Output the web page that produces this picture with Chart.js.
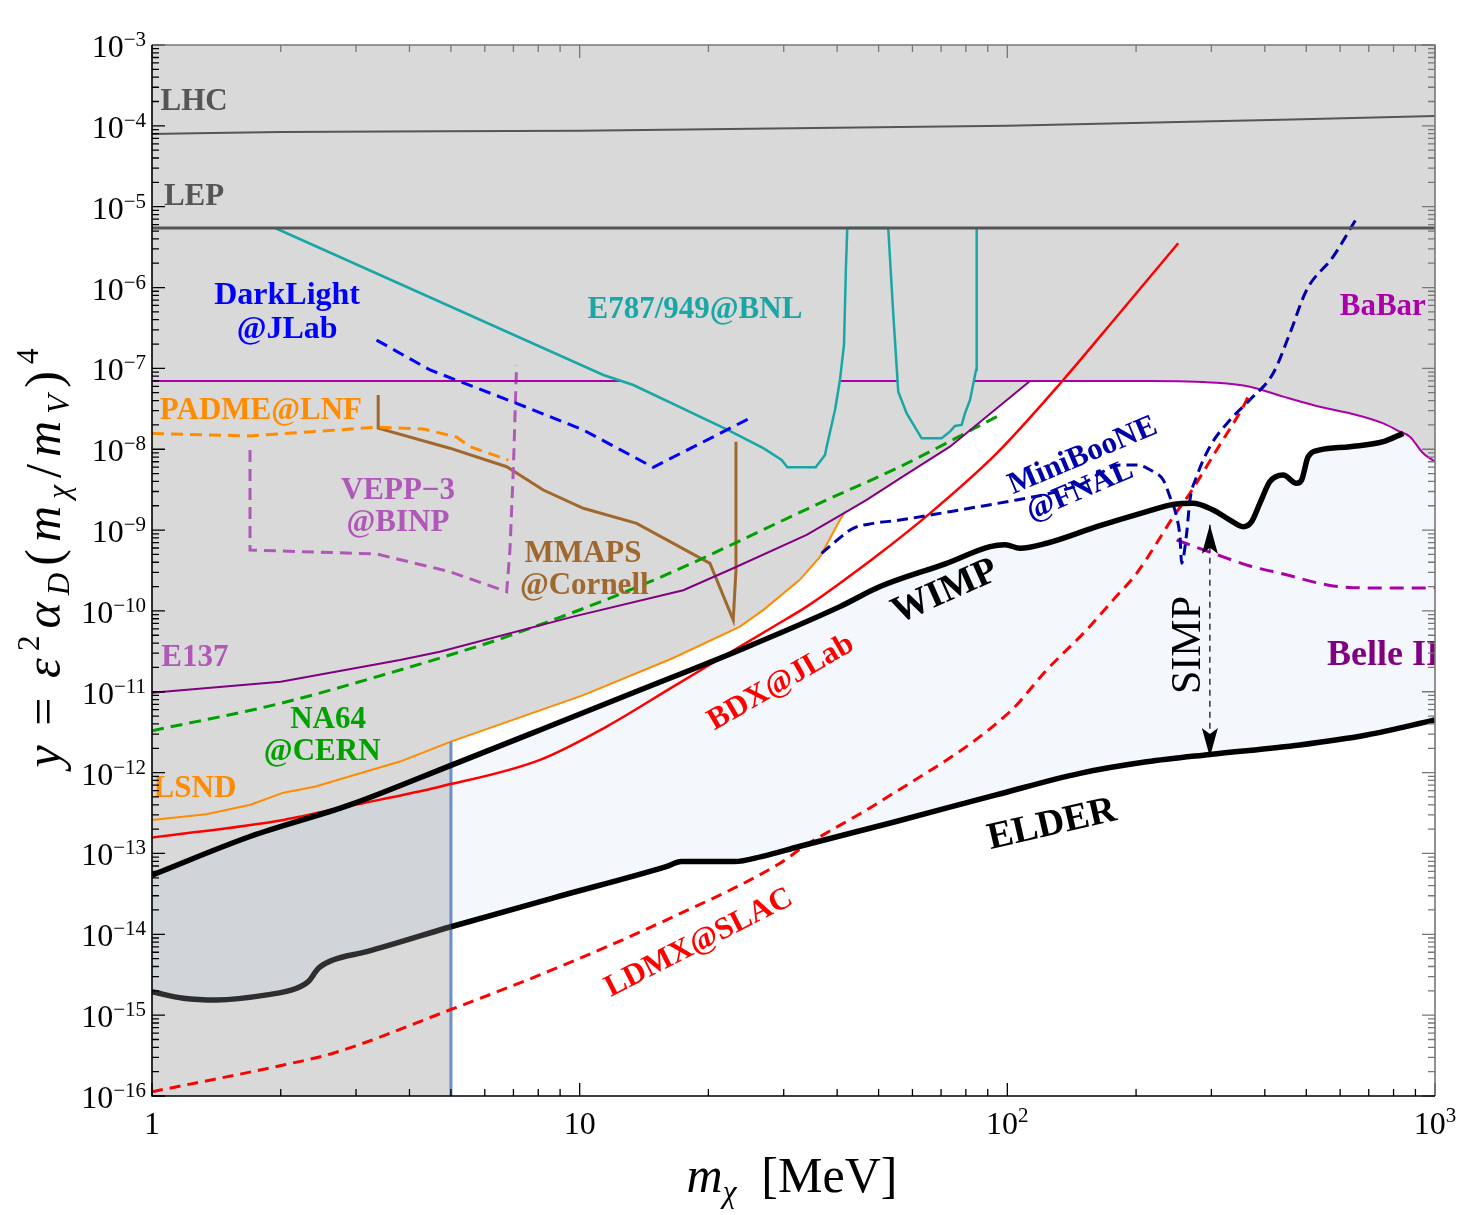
<!DOCTYPE html>
<html>
<head>
<meta charset="utf-8">
<script src="https://cdn.jsdelivr.net/npm/chart.js@4.4.1/dist/chart.umd.min.js"></script>
<style>
  html, body { margin: 0; padding: 0; background: #fff; }
  canvas { display: block; }
</style>
</head>
<body>
<canvas id="chart" width="1459" height="1215"></canvas>
<script>
// every curve is a list of [m_chi in MeV, y]
var lhc = [[1, 7.9e-5], [2, 8.4e-5], [10, 8.7e-5], [100, 1.0e-4], [1000, 1.32e-4]];
var lep = [[1, 5.45e-6], [1000, 5.45e-6]];
var e787 = [[1.94, 5.45e-6], [11.36, 8.29e-8], [13.35, 6.23e-8], [22.07, 1.765e-8], [26.88, 1.03e-8],
  [29.67, 7.36e-9], [30.58, 5.98e-9], [35.63, 5.98e-9], [36.46, 7.01e-9], [37.46, 8.49e-9],
  [37.81, 1.075e-8], [39.54, 3.06e-8], [40.61, 7.19e-8], [41.5, 1.95e-7], [41.94, 1.81e-6],
  [42.24, 5.45e-6], [52.66, 5.45e-6], [54.1, 4.8e-7], [55.58, 5.15e-8], [58.17, 2.78e-8],
  [63.05, 1.366e-8], [70.2, 1.366e-8], [73.4, 1.65e-8], [75.4, 1.94e-8], [78.2, 2.0e-8],
  [79.6, 2.78e-8], [81.8, 4.07e-8], [84.5, 9.55e-8], [84.8, 5.45e-6]];
var babar = [[1, 7e-8], [215.5, 7e-8], [308.6, 6.65e-8], [369, 5.94e-8], [441.7, 4.47e-8],
  [528.8, 3.43e-8], [632.6, 2.78e-8], [756.9, 2.09e-8], [827.9, 1.65e-8], [873.6, 1.43e-8],
  [938.4, 8.9e-9], [1000, 7.0e-9]];
var e137 = [[1, 9.75e-12], [2, 1.33e-11], [3.8, 2.47e-11], [4.71, 3.13e-11], [9.66, 8.5e-11],
  [17.47, 1.8e-10], [22.86, 3.37e-10], [33.94, 8.7e-10], [42.1, 1.69e-9], [46.9, 2.36e-9],
  [56.1, 4.37e-9], [73.4, 1.075e-8], [113, 7e-8]];
var lsnd = [[1, 2.6e-13], [1.34, 3.06e-13], [1.7, 4.0e-13], [2.03, 5.65e-13], [2.4, 6.7e-13],
  [3.8, 1.37e-12], [5, 2.42e-12], [10.2, 9.1e-12], [16.5, 2.6e-11], [23.7, 6.4e-11],
  [26.9, 1.03e-10], [32.7, 2.42e-10], [36.5, 4.7e-10], [40.6, 1.33e-9], [41.7, 1.69e-9]];
var na64 = [[1, 3.3e-12], [2, 7.2e-12], [3.8, 1.86e-11], [4.97, 2.85e-11], [6.75, 4.8e-11],
  [14.6, 2.3e-10], [37.8, 2.36e-9], [56.1, 6.08e-9], [97.8, 2.78e-8]];
var padme = [[1, 1.57e-8], [1.695, 1.46e-8], [3.35, 1.87e-8], [4.31, 1.78e-8], [5.16, 1.41e-8],
  [5.54, 1.075e-8], [6.81, 7.36e-9]];
var vepp = [[1.695, 9.8e-9], [1.695, 5.67e-10], [3.35, 5.06e-10], [4.97, 3.06e-10], [6.75, 1.73e-10],
  [6.87, 5.67e-10], [7.0, 6.08e-9], [7.12, 1.1e-7]];
var mmaps = [[3.38, 4.69e-8], [3.38, 1.82e-8], [4.97, 1.03e-8], [6.75, 6.08e-9], [8.22, 3.13e-9],
  [10.2, 1.86e-9], [13.59, 1.21e-9], [20.17, 3.88e-10], [22.86, 7.73e-11], [23.2, 3.21e-10],
  [23.2, 1.24e-8]];
var darklight = [[3.35, 2.24e-7], [4.47, 9.55e-8], [7.12, 3.7e-8], [10.2, 1.73e-8], [14.86, 5.98e-9],
  [25, 2.42e-8]];
var miniboone = [[36.8, 5.16e-10], [39.2, 6.87e-10], [43.6, 1.05e-9], [48.6, 1.21e-9], [56.1, 1.33e-9],
  [73.4, 1.69e-9], [87.8, 1.99e-9], [105.2, 2.36e-9], [125.8, 2.85e-9], [150.5, 3.79e-9],
  [164.6, 5.04e-9], [183.4, 6.39e-9], [200.6, 6.39e-9], [219.3, 5.28e-9], [231.5, 4.17e-9],
  [240, 2.59e-9], [248.8, 1.46e-9], [253.3, 8.29e-10], [255.6, 3.89e-10], [262.6, 9.13e-10],
  [267.3, 2.36e-9], [277.1, 4.58e-9], [297.6, 1.075e-8], [331.6, 2.3e-8], [369, 4.07e-8],
  [418.4, 8.7e-8], [457.9, 2.72e-7], [501, 9.33e-7], [578, 2.41e-6], [655.6, 7.19e-6]];
var bdx = [[1, 1.57e-13], [2.03, 2.6e-13], [2.9, 3.87e-13], [4.71, 6.7e-13], [8.08, 1.44e-12],
  [11.56, 3.71e-12], [16.55, 1.16e-11], [23.7, 3.61e-11], [28.36, 6.38e-11], [33.94, 1.13e-10],
  [40.6, 2.2e-10], [50.4, 5.16e-10], [65.9, 1.61e-9], [94.4, 8.9e-9], [135.1, 7.19e-8],
  [180.1, 4.36e-7], [250.9, 3.53e-6]];
var ldmx = [[1, 1.13e-16], [2.03, 2.42e-16], [2.65, 3.38e-16], [4.97, 1.16e-15], [8.61, 3.62e-15],
  [15.93, 1.5e-14], [29.4, 7.57e-14], [33.3, 1.2e-13], [50.4, 4.37e-13], [101.4, 5.67e-12],
  [123.6, 1.86e-11], [153.2, 5.81e-11], [176.8, 1.37e-10], [200.6, 2.92e-10], [223.4, 6.87e-10],
  [244.3, 1.46e-9], [267.3, 2.85e-9], [308.6, 9.8e-9], [356, 3.36e-8], [365.8, 4.47e-8]];
var belle2 = [[248.8, 7.54e-10], [302.9, 5.16e-10], [369, 3.6e-10], [441.7, 2.86e-10], [578, 2.04e-10],
  [743, 1.92e-10], [1000, 1.92e-10]];
var wimp = [[1, 5.4e-14], [1.695, 1.62e-13], [2.9, 3.98e-13], [5, 1.23e-12], [8.08, 3.37e-12],
  [13.84, 1.05e-11], [23.7, 3.29e-11], [40.6, 1.13e-10], [50.4, 2.0e-10], [72.1, 3.88e-10],
  [91.1, 6.24e-10], [98.9, 6.6e-10], [107, 5.96e-10], [123.6, 6.87e-10], [161.8, 1.1e-9],
  [211.7, 1.69e-9], [244.3, 2.08e-9], [271.4, 2.15e-9], [302.9, 1.77e-9], [331.6, 1.33e-9],
  [356, 1.1e-9], [372.6, 1.27e-9], [389.6, 2.15e-9], [411, 3.97e-9], [441.7, 4.8e-9],
  [474.7, 3.79e-9], [487.7, 4.17e-9], [505.2, 8.09e-9], [538.2, 9.8e-9], [632.6, 1.075e-8],
  [756.9, 1.24e-8], [842.6, 1.57e-8]];
var elder = [[1, 1.95e-15], [1.184, 1.62e-15], [1.417, 1.54e-15], [1.855, 1.78e-15], [2.18, 2.15e-15],
  [2.32, 2.6e-15], [2.45, 3.8e-15], [2.65, 4.82e-15], [3.18, 6.1e-15], [5, 1.24e-14],
  [8.61, 2.79e-14], [15.93, 6.87e-14], [17.29, 7.93e-14], [23, 7.93e-14], [26.6, 9.14e-14],
  [32.6, 1.22e-13], [54.4, 2.45e-13], [94.1, 5.3e-13], [147.8, 9.8e-13], [211.7, 1.36e-12],
  [297.6, 1.68e-12], [483.2, 2.2e-12], [692, 2.92e-12], [1000, 4.48e-12]];
var cutLine = [[5, 1e-16], [5, 2.42e-12]];
var simpArrow = [[297.6, 1.16e-9], [297.6, 1.56e-12]];

var xDecades = [1, 10, 100, 1000];
var yExponents = [-3, -4, -5, -6, -7, -8, -9, -10, -11, -12, -13, -14, -15, -16];

// region edges built from the curves above
var allowedEdge = lsnd.filter(function (p) { return p[0] >= 5; })
  .concat(e137.filter(function (p) { return p[0] > 41.7; }))
  .concat(babar.filter(function (p) { return p[0] > 113; }));
var wimpEnd = wimp[wimp.length - 1][0];
var simpTop = wimp.filter(function (p) { return p[0] >= 5; })
  .concat(babar.filter(function (p) { return p[0] > wimpEnd; }));
var simpTopLow = wimp.filter(function (p) { return p[0] <= 5; });

var notes = [
  { t: 'LHC', m: 1.254, v: 1.97e-4, c: '#555555', s: 31 },
  { t: 'LEP', m: 1.254, v: 1.32e-5, c: '#555555', s: 31 },
  { t: 'DarkLight', m: 2.07, v: 7.86e-7, c: '#0000ff', s: 32 },
  { t: '@JLab', m: 2.07, v: 2.99e-7, c: '#0000ff', s: 32 },
  { t: 'E787/949@BNL', m: 18.6, v: 5.27e-7, c: '#19a6a6', s: 31 },
  { t: 'BaBar', m: 755, v: 5.75e-7, c: '#aa00aa', s: 31 },
  { t: 'PADME@LNF', m: 1.798, v: 2.97e-8, c: '#ff8c00', s: 31 },
  { t: 'VEPP\u22123', m: 3.76, v: 3.05e-9, c: '#b058b8', s: 31 },
  { t: '@BINP', m: 3.76, v: 1.22e-9, c: '#b058b8', s: 31 },
  { t: 'MMAPS', m: 10.18, v: 5.06e-10, c: '#a0682f', s: 31 },
  { t: '@Cornell', m: 10.25, v: 2.04e-10, c: '#a0682f', s: 31 },
  { t: 'E137', m: 1.26, v: 2.62e-11, c: '#b058b8', s: 31 },
  { t: 'NA64', m: 2.58, v: 4.48e-12, c: '#00a000', s: 31 },
  { t: '@CERN', m: 2.5, v: 1.8e-12, c: '#00a000', s: 31 },
  { t: 'LSND', m: 1.26, v: 6.28e-13, c: '#ff8c00', s: 31 },
  { t: 'WIMP', m: 71.5, v: 1.71e-10, c: '#000000', s: 38, r: -24 },
  { t: 'ELDER', m: 127.2, v: 2.25e-13, c: '#000000', s: 38, r: -13 },
  { t: 'BDX@JLab', m: 29.56, v: 1.29e-11, c: '#ff0000', s: 31, r: -30 },
  { t: 'LDMX@SLAC', m: 19.0, v: 7.82e-15, c: '#ff0000', s: 31, r: -27 },
  { t: 'MiniBooNE', m: 150.2, v: 8.25e-9, c: '#0000a8', s: 31, r: -23 },
  { t: '@FNAL', m: 147.8, v: 3.05e-9, c: '#0000a8', s: 31, r: -23 },
  { t: 'Belle II', m: 558.8, v: 2.77e-11, c: '#800080', s: 36, a: 'left' },
  { t: 'SIMP', m: 265.9, v: 3.79e-11, c: '#000000', s: 42, r: -90, w: 'normal' }
];

function xy(a) { return a.map(function (p) { return { x: p[0], y: p[1] }; }); }

var SERIF = '"Liberation Serif", "DejaVu Serif", serif';
var GRAY = '#d9d9d9';
var CLEAR = 'rgba(0,0,0,0)';

function curve(d, color, width, dash, order, smooth) {
  return {
    data: xy(d), borderColor: color, borderWidth: width, borderDash: dash || [],
    pointRadius: 0, fill: false, order: order,
    cubicInterpolationMode: smooth ? 'monotone' : 'default', tension: 0
  };
}
function area(d, fill, color, order) {
  return {
    data: xy(d), borderColor: CLEAR, borderWidth: 0, pointRadius: 0,
    fill: fill, backgroundColor: color, order: order, tension: 0
  };
}

var ELDER_INDEX = 21;
var datasets = [
  area(allowedEdge, 'start', '#ffffff', 100),
  area(simpTop, ELDER_INDEX, '#f4f8fd', 99),
  area(simpTopLow, ELDER_INDEX, '#d1d5da', 99),
  curve(cutLine, '#6a8fc6', 3, null, 60),
  curve(babar, '#aa00aa', 2, null, 60, true),
  curve(e137, '#800080', 2, null, 60),
  curve(lsnd, '#ff8c00', 2, null, 60),
  curve(na64, '#00a000', 3, [12, 7], 60, true),
  curve(padme, '#ff8c00', 3, [12, 7], 60),
  curve(vepp, '#b058b8', 3, [12, 7], 60),
  curve(mmaps, '#a0682f', 3, null, 60),
  curve(e787, '#19a6a6', 2.5, null, 50),
  curve(lhc, '#555555', 2, null, 40, true),
  curve(lep, '#555555', 3, null, 40),
  curve(darklight, '#0000ff', 3, [12, 7], 40),
  curve(miniboone, '#0000a8', 3, [11, 6], 40, true),
  curve(bdx, '#ff0000', 2.5, null, 40, true),
  curve(ldmx, '#ff0000', 3, [11, 7], 40, true),
  curve(belle2, '#aa00aa', 3, [14, 8], 40, true),
  curve(simpArrow, '#000000', 1.2, [6, 5], 40),
  curve(wimp, '#000000', 5.5, null, 30, true),
  curve(elder, '#000000', 5.5, null, 30, true)
];
datasets[11].fill = 'end';
datasets[11].backgroundColor = GRAY;
datasets[ELDER_INDEX].segment = {
  borderColor: function (c) { return c.p1.parsed.x <= 5 ? '#2e2e2e' : '#000000'; }
};

function rich(ctx, parts, x, y, align, gap) {
  gap = gap || 0;
  var w = 0;
  parts.forEach(function (p) { ctx.font = p[1]; w += ctx.measureText(p[0]).width; });
  w += gap * (parts.length - 1);
  var cx = align === 'center' ? x - w / 2 : (align === 'right' ? x - w : x);
  parts.forEach(function (p) {
    ctx.font = p[1];
    ctx.fillText(p[0], cx, y + (p[2] || 0));
    cx += ctx.measureText(p[0]).width + gap;
  });
  return w;
}

var background = {
  id: 'background',
  beforeDraw: function (chart) {
    var a = chart.chartArea, ctx = chart.ctx;
    ctx.save();
    ctx.fillStyle = GRAY;
    ctx.fillRect(a.left, a.top, a.right - a.left, a.bottom - a.top);
    ctx.restore();
  }
};

var annotations = {
  id: 'annotations',
  afterDatasetsDraw: function (chart) {
    var ctx = chart.ctx, a = chart.chartArea, xs = chart.scales.x, ys = chart.scales.y;
    ctx.save();
    ctx.beginPath();
    ctx.rect(a.left, a.top, a.right - a.left, a.bottom - a.top);
    ctx.clip();

    // SIMP arrow heads
    ctx.fillStyle = '#000';
    simpArrow.forEach(function (p, i) {
      var px = xs.getPixelForValue(p[0]), py = ys.getPixelForValue(p[1]);
      var d = i === 0 ? 1 : -1;
      ctx.beginPath();
      ctx.moveTo(px, py);
      ctx.lineTo(px - 8, py + d * 29);
      ctx.lineTo(px, py + d * 23);
      ctx.lineTo(px + 8, py + d * 29);
      ctx.closePath();
      ctx.fill();
    });

    notes.forEach(function (n) {
      var px = xs.getPixelForValue(n.m), py = ys.getPixelForValue(n.v);
      ctx.save();
      ctx.translate(px, py);
      if (n.r) ctx.rotate(n.r * Math.PI / 180);
      ctx.fillStyle = n.c;
      ctx.font = (n.w || 'bold') + ' ' + n.s + 'px ' + SERIF;
      ctx.textAlign = n.a || 'center';
      ctx.textBaseline = 'middle';
      ctx.fillText(n.t, 0, 0);
      ctx.restore();
    });
    ctx.restore();
  }
};

var frame = {
  id: 'frame',
  afterDraw: function (chart) {
    var ctx = chart.ctx, a = chart.chartArea, xs = chart.scales.x, ys = chart.scales.y;
    ctx.save();
    ctx.lineWidth = 1.3;

    var yMinor = [], yMajor = [];
    yExponents.forEach(function (e) {
      yMajor.push(Math.pow(10, e));
      if (e > -16) for (var k = 2; k <= 9; k++) yMinor.push(k * Math.pow(10, e - 1));
    });
    var xMinor = [];
    xDecades.slice(0, 3).forEach(function (d) {
      for (var k = 2; k <= 9; k++) xMinor.push(k * d);
    });

    function ticks(list, len, color) {
      ctx.strokeStyle = color;
      ctx.beginPath();
      list.forEach(function (v) {
        var y = ys.getPixelForValue(v);
        if (color === '#000') { ctx.moveTo(a.left, y); ctx.lineTo(a.left + len, y); }
        else { ctx.moveTo(a.right, y); ctx.lineTo(a.right - len, y); }
      });
      ctx.stroke();
    }
    function xticks(list, len, color) {
      ctx.strokeStyle = color;
      ctx.beginPath();
      list.forEach(function (v) {
        var x = xs.getPixelForValue(v);
        if (color === '#000') { ctx.moveTo(x, a.bottom); ctx.lineTo(x, a.bottom - len); }
        else { ctx.moveTo(x, a.top); ctx.lineTo(x, a.top + len); }
      });
      ctx.stroke();
    }
    ticks(yMajor, 13, '#000'); ticks(yMinor, 7, '#000');
    ticks(yMajor, 13, '#777'); ticks(yMinor, 7, '#777');
    xticks(xDecades, 13, '#000'); xticks(xMinor, 7, '#000');
    xticks(xDecades, 13, '#777'); xticks(xMinor, 7, '#777');

    ctx.lineWidth = 1.6;
    ctx.strokeStyle = '#777';
    ctx.beginPath();
    ctx.moveTo(a.left, a.top); ctx.lineTo(a.right, a.top); ctx.lineTo(a.right, a.bottom);
    ctx.stroke();
    ctx.strokeStyle = '#000';
    ctx.beginPath();
    ctx.moveTo(a.left, a.top); ctx.lineTo(a.left, a.bottom); ctx.lineTo(a.right, a.bottom);
    ctx.stroke();

    // tick labels
    ctx.fillStyle = '#000';
    ctx.textAlign = 'left';
    ctx.textBaseline = 'alphabetic';
    var big = '32px ' + SERIF, small = '21px ' + SERIF;
    yExponents.forEach(function (e) {
      var y = ys.getPixelForValue(Math.pow(10, e));
      rich(ctx, [['10', big, 12], ['\u2212' + (-e), small, 1]], a.left - 6, y, 'right');
    });
    xDecades.forEach(function (d, i) {
      var x = xs.getPixelForValue(d);
      var parts = i === 0 ? [['1', big]] : (i === 1 ? [['10', big]] : [['10', big], [String(i), small, -12]]);
      rich(ctx, parts, x, a.bottom + 38, 'center');
    });

    // axis titles
    var it = 'italic 50px ' + SERIF, rm = '50px ' + SERIF, sub = 'italic 31px ' + SERIF, sup = '31px ' + SERIF;
    rich(ctx, [['m', it], ['\u03c7', sub, 10], ['  [MeV]', rm]], 792, 1192, 'center');

    ctx.save();
    ctx.translate(60, 558);
    ctx.rotate(-Math.PI / 2);
    var parts = [['y', it], ['=', rm], ['\u03b5', it], ['2', sup, -21], ['\u03b1', it], ['D', sub, 9],
      ['(', rm], ['m', it], ['\u03c7', sub, 9], ['/', rm], ['m', it], ['V', sub, 9], [')', rm], ['4', sup, -22]];
    var w = 0;
    parts.forEach(function (p) { ctx.font = p[1]; w += ctx.measureText(p[0]).width; });
    var gap = Math.max(0, (444 - w - 24) / (parts.length - 1));
    parts[0][0] = 'y ';
    parts[1][0] = '= ';
    rich(ctx, parts, 0, 0, 'center', Math.max(0, gap - 2));
    ctx.restore();

    ctx.restore();
  }
};

new Chart(document.getElementById('chart'), {
  type: 'line',
  data: { datasets: datasets },
  options: {
    responsive: false,
    animation: false,
    devicePixelRatio: 1,
    layout: { padding: { left: 152, right: 24, top: 45, bottom: 119 } },
    scales: {
      x: { type: 'logarithmic', min: 1, max: 1000, display: false },
      y: { type: 'logarithmic', min: 1e-16, max: 1e-3, display: false }
    },
    plugins: {
      legend: { display: false },
      tooltip: { enabled: false },
      filler: { propagate: false }
    }
  },
  plugins: [background, annotations, frame]
});
</script>
</body>
</html>
